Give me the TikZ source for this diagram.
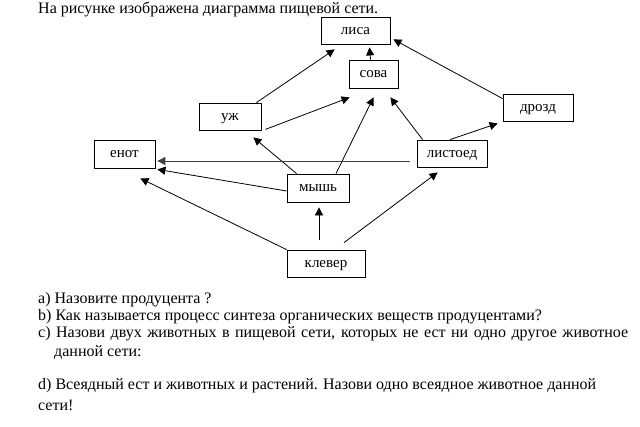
\documentclass[tikz,border=0pt]{standalone}
\usepackage{fontspec}
\setmainfont{Liberation Serif}
\usetikzlibrary{arrows.meta}
\tikzset{
  box/.style={draw, line width=0.8pt, inner sep=0pt, text height=7pt, text depth=0pt, font=\fontsize{15}{17}\selectfont},
  arr/.style={line width=0.8pt, -{Triangle[length=8pt,width=8pt]}},
  txt/.style={anchor=base west, inner sep=0pt, font=\fontsize{16}{18}\selectfont}
}
\begin{document}
\begin{tikzpicture}[x=1pt,y=-1pt]
\useasboundingbox[fill=white] (0,0) rectangle (640,426);
% nodes
\node[box, minimum width=69pt, minimum height=27pt] (lisa) at (355.5,30.5) {лиса};
\node[box, minimum width=49pt, minimum height=28pt] (sova) at (373.5,74) {сова};
\node[box, minimum width=62pt, minimum height=27pt] (uzh) at (230,116.5) {уж};
\node[box, minimum width=70pt, minimum height=27pt] (drozd) at (538,107.5) {дрозд};
\node[box, minimum width=61pt, minimum height=28pt] (enot) at (124.5,154) {енот};
\node[box, minimum width=70pt, minimum height=27pt] (listoed) at (452,153.5) {листоед};
\node[box, minimum width=62pt, minimum height=28pt] (mysh) at (318,188) {мышь};
\node[box, minimum width=78pt, minimum height=27pt] (klever) at (326,263.5) {клевер};
% connectors
\draw[arr] ([xshift=-5pt]uzh.north east) -- ([xshift=14pt,yshift=-5pt]lisa.south west);
\draw[arr] ([xshift=-3pt]sova.north) -- ([xshift=14pt,yshift=-3pt]lisa.south);
\draw[arr] ([yshift=-5pt]drozd.north west) -- ([xshift=3pt,yshift=5pt]lisa.south east);
\draw[arr] ([xshift=4pt,yshift=1pt]uzh.south east) -- ([xshift=1pt,yshift=-9pt]sova.south west);
\draw[arr] ([xshift=18pt]mysh.north) -- ([yshift=-9pt]sova.south);
\draw[arr] ([xshift=6pt]listoed.north west) -- ([xshift=-8pt,yshift=-9pt]sova.south east);
\draw[arr] ([xshift=-2pt]listoed.north) -- ([xshift=-5pt,yshift=-2pt]drozd.south west);
\draw[arr] ([xshift=10pt]mysh.north west) -- ([xshift=-8pt,yshift=-7pt]uzh.south east);
\draw[arr, line width=1pt, black!75] ([xshift=-7pt,yshift=-7.5pt]listoed.west) -- ([xshift=2pt,yshift=-7pt]enot.east);
\draw[arr] ([yshift=-3pt]mysh.west) -- ([xshift=2pt,yshift=-1pt]enot.south east);
\draw[arr] (klever.north west) -- ([xshift=-15pt,yshift=-10pt]enot.south east);
\draw[arr] ([xshift=-7pt,yshift=10pt]klever.north) -- ([xshift=1pt,yshift=-5pt]mysh.south);
\draw[arr] ([xshift=18pt,yshift=7pt]klever.north) -- ([xshift=21pt,yshift=-5pt]listoed.south west);
% texts
\node[txt] (title) at (38,13) {На рисунке изображена диаграмма пищевой сети.};
\node[txt] (qa) at (38,303) {a) Назовите продуцента ?};
\node[txt] (qb) at (38,320) {b) Как называется процесс синтеза органических веществ продуцентами?};
\node[txt] (qc) at (38,337) {\makebox[590pt][s]{c) Назови двух животных в пищевой сети, которых не ест ни одно другое животное}};
\node[txt] (qc2) at (54,356) {данной сети:};
\node[txt] (qd) at (38,389) {d) Всеядный ест и животных и растений. Назови одно всеядное животное данной};
\node[txt] (qd2) at (38,410) {сети!};
\end{tikzpicture}
\end{document}
